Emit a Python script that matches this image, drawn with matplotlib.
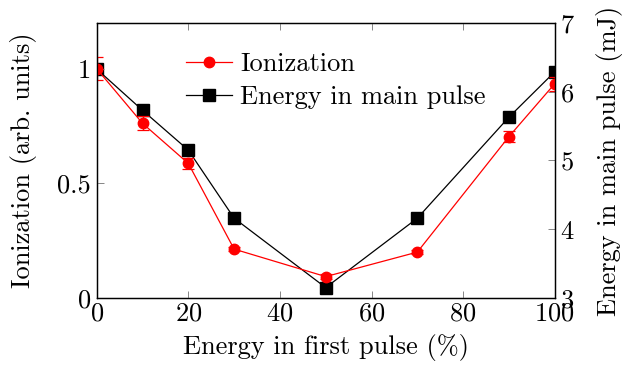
import numpy as np
import matplotlib
matplotlib.use("Agg")
import matplotlib.pyplot as plt

# Daten
x = [0, 10, 20, 30, 50, 70, 90, 100]
ionisation = [1.0, 0.762, 0.587, 0.213, 0.093, 0.200, 0.704, 0.935]
ionisation_err = [0.05, 0.03, 0.025, 0.01, 0.01, 0.01, 0.025, 0.03]
energie = [6.33, 5.73, 5.15, 4.16, 3.15, 4.16, 5.63, 6.29]

plt.rcParams['font.family'] = 'cmr10'
plt.rcParams['mathtext.fontset'] = 'cm'
plt.rcParams['axes.formatter.use_mathtext'] = True
plt.rcParams['axes.unicode_minus'] = False

fs = 19

fig = plt.figure(figsize=(6.24, 3.71), dpi=100)
ax = fig.add_axes([0.155, 0.197, 0.734, 0.741])
ax2 = ax.twinx()
ax.set_zorder(ax2.get_zorder() + 1)
ax.patch.set_visible(False)

# Energie (rechte Achse)
l2, = ax2.plot(x, energie, 'k-', marker='s', ms=8.5, lw=0.9, label='Energy in main pulse')
# Ionisation (linke Achse)
eb = ax.errorbar(x, ionisation, yerr=ionisation_err, color='red', marker='o', ms=7.5,
                 lw=0.9, capsize=4, elinewidth=0.9, capthick=0.9)
l1, = ax.plot([], [], 'r-', marker='o', ms=7.5, lw=0.9, label='Ionization')

ax.set_xlim(0, 100)
ax.set_ylim(0, 1.2)
ax2.set_ylim(3, 7)
ax.set_xticks([0, 20, 40, 60, 80, 100])
ax.set_yticks([0, 0.5, 1])
ax.set_yticklabels(['0', '0.5', '1'])
ax2.set_yticks([3, 4, 5, 6, 7])

ax.tick_params(axis='x', direction='in', top=True, length=5, width=0.6, color='0.45',
               labelsize=fs, pad=3)
ax.tick_params(axis='y', direction='in', right=False, length=5, width=0.6, color='0.45',
               labelsize=fs, pad=4)
ax2.tick_params(axis='y', direction='in', length=5, width=0.6, color='0.45',
                labelsize=fs, pad=4)

for a in (ax, ax2):
    for s in a.spines.values():
        s.set_linewidth(0.9)

ax.set_xlabel('Energy in first pulse (%)', fontsize=fs, labelpad=6)
ax.set_ylabel('Ionization (arb. units)', fontsize=fs, labelpad=15)
ax2.set_ylabel('Energy in main pulse (mJ)', fontsize=fs, labelpad=15)

ax.legend([l1, l2], ['Ionization', 'Energy in main pulse'], loc='upper left',
          bbox_to_anchor=(0.155, 0.96), frameon=False, fontsize=fs,
          handlelength=1.75, handletextpad=0.3, labelspacing=0.35, borderpad=0.2)

fig.savefig('out.png', dpi=100)
